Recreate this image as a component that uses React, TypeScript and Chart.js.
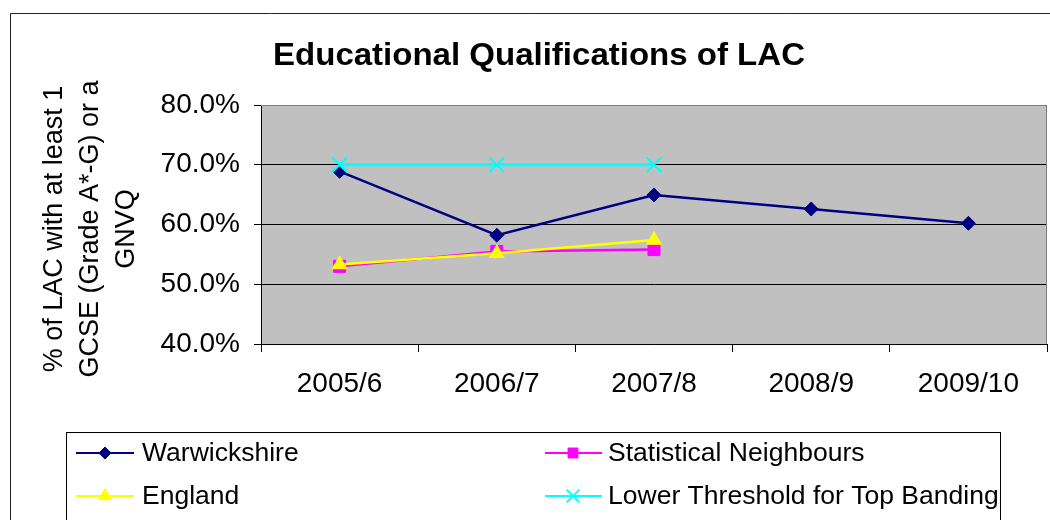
import React, { useEffect, useRef } from 'react';
import { Chart, registerables } from 'chart.js';
import { drawPoint } from 'chart.js/helpers';

Chart.register(...registerables);

const categories = ['2005/6', '2006/7', '2007/8', '2008/9', '2009/10'];
const warwickshire = [68.9, 58.2, 64.95, 62.6, 60.2];
const statNeighbours = [53.0, 55.5, 55.8, null, null];
const england = [53.3, 55.2, 57.4, null, null];
const threshold = [70, 70, 70, null, null];
const seriesNames = ['Warwickshire', 'Statistical Neighbours', 'England', 'Lower Threshold for Top Banding'];
const yMin = 40;
const yMax = 80;
const yStep = 10;
const titleText = 'Educational Qualifications of LAC';
const yTitleLines = ['% of LAC with at least 1', 'GCSE (Grade A*-G) or a', 'GNVQ'];

const FONT = '"Liberation Sans", Arial, sans-serif';

const decorPlugin = {
  id: 'decor',
  beforeDraw(chart: any) {
    const { ctx, chartArea } = chart;
    ctx.save();
    ctx.fillStyle = '#ffffff';
    ctx.fillRect(0, 0, chart.width, chart.height);
    // outer border
    ctx.strokeStyle = '#222';
    ctx.lineWidth = 1;
    ctx.beginPath();
    ctx.moveTo(chart.width + 5, 13.5);
    ctx.lineTo(10.5, 13.5);
    ctx.lineTo(10.5, chart.height + 5);
    ctx.stroke();
    // plot background
    ctx.fillStyle = '#C0C0C0';
    ctx.fillRect(chartArea.left, chartArea.top, chartArea.right - chartArea.left, chartArea.bottom - chartArea.top);
    // title
    ctx.fillStyle = '#000';
    ctx.save();
    ctx.translate(539, 65);
    ctx.scale(1.065, 1);
    ctx.font = `bold 31px ${FONT}`;
    ctx.textAlign = 'center';
    ctx.textBaseline = 'alphabetic';
    ctx.fillText(titleText, 0, 0);
    ctx.restore();
    // y title
    ctx.font = `27px ${FONT}`;
    const baselines = [62, 98, 134];
    yTitleLines.forEach((line, i) => {
      ctx.save();
      ctx.translate(baselines[i], 229);
      ctx.rotate(-Math.PI / 2);
      ctx.textAlign = 'center';
      ctx.textBaseline = 'alphabetic';
      ctx.fillText(line, 0, 0);
      ctx.restore();
    });
    ctx.restore();
  },
  beforeDatasetsDraw(chart: any) {
    const { ctx, chartArea } = chart;
    ctx.save();
    ctx.strokeStyle = '#808080';
    ctx.lineWidth = 1;
    ctx.beginPath();
    ctx.moveTo(chartArea.left, chartArea.top + 0.5);
    ctx.lineTo(chartArea.right - 0.5, chartArea.top + 0.5);
    ctx.lineTo(chartArea.right - 0.5, chartArea.bottom);
    ctx.stroke();
    ctx.restore();
  },
  afterDraw(chart: any) {
    const { ctx } = chart;
    ctx.save();
    ctx.strokeStyle = '#000';
    ctx.lineWidth = 1;
    ctx.strokeRect(66.5, 432.5, 934, 120);
    const rows = [453, 496];
    const cols = [{ l0: 76, l1: 134, m: 105, t: 142 }, { l0: 545, l1: 602, m: 573, t: 608 }];
    const legendRadius = [6, 7, 7.5, 9];
    chart.data.datasets.forEach((ds: any, i: number) => {
      const c = cols[i % 2];
      const y = rows[Math.floor(i / 2)];
      ctx.strokeStyle = ds.borderColor;
      ctx.lineWidth = 2;
      ctx.beginPath();
      ctx.moveTo(c.l0, y);
      ctx.lineTo(c.l1, y);
      ctx.stroke();
      ctx.fillStyle = ds.pointBackgroundColor;
      ctx.strokeStyle = ds.pointBorderColor;
      ctx.lineWidth = ds.pointBorderWidth;
      drawPoint(ctx, { pointStyle: ds.pointStyle, radius: legendRadius[i], rotation: 0, borderWidth: ds.pointBorderWidth }, c.m, y);
      ctx.fillStyle = '#000';
      ctx.save();
      ctx.translate(c.t, y + 1);
      ctx.scale(1.02, 1);
      ctx.font = `26px ${FONT}`;
      ctx.textAlign = 'left';
      ctx.textBaseline = 'middle';
      ctx.fillText(seriesNames[i], 0, 0);
      ctx.restore();
    });
    ctx.restore();
  },
};

export default function App() {
  const ref = useRef<HTMLCanvasElement | null>(null);
  useEffect(() => {
    if (!ref.current) return;
    const chart = new Chart(ref.current, {
      type: 'line',
      data: {
        labels: categories,
        datasets: [
          {
            label: seriesNames[0], data: warwickshire, borderColor: '#000080', backgroundColor: '#000080',
            pointBackgroundColor: '#000080', pointBorderColor: '#000080', pointBorderWidth: 1,
            pointStyle: 'rectRot', pointRadius: 7, borderWidth: 2.5, order: 4,
          },
          {
            label: seriesNames[1], data: statNeighbours, borderColor: '#FF00FF', backgroundColor: '#FF00FF',
            pointBackgroundColor: '#FF00FF', pointBorderColor: '#FF00FF', pointBorderWidth: 1,
            pointStyle: 'rect', pointRadius: 8.5, borderWidth: 2.5, order: 3,
          },
          {
            label: seriesNames[2], data: england, borderColor: '#FFFF00', backgroundColor: '#FFFF00',
            pointBackgroundColor: '#FFFF00', pointBorderColor: '#FFFF00', pointBorderWidth: 1,
            pointStyle: 'triangle', pointRadius: 8.5, borderWidth: 2.5, order: 2,
          },
          {
            label: seriesNames[3], data: threshold, borderColor: '#00FFFF', backgroundColor: '#00FFFF',
            pointBackgroundColor: '#00FFFF', pointBorderColor: '#00FFFF', pointBorderWidth: 2,
            pointStyle: 'crossRot', pointRadius: 10.5, borderWidth: 3, order: 1,
          },
        ] as any,
      },
      options: {
        animation: false,
        responsive: false,
        devicePixelRatio: 1,
        layout: { autoPadding: false, padding: { top: 105, right: 3, left: 0, bottom: 0 } },
        plugins: { legend: { display: false }, title: { display: false }, tooltip: { enabled: false } },
        elements: { line: { tension: 0 } },
        scales: {
          x: {
            type: 'category',
            offset: true,
            grid: { offset: true, drawOnChartArea: false, drawTicks: true, tickLength: 8, color: '#000' },
            border: { display: true, color: '#000', width: 1 },
            ticks: { color: '#000', font: { family: FONT, size: 28 }, padding: 15, maxRotation: 0 },
            afterFit: (s: any) => { s.height = 176; s.paddingLeft = 0; s.paddingRight = 0; },
          },
          y: {
            min: yMin,
            max: yMax,
            grid: { color: '#000', tickLength: 7, drawTicks: true },
            border: { display: true, color: '#000', width: 1 },
            ticks: {
              stepSize: yStep, color: '#000', font: { family: FONT, size: 28 }, padding: 14,
              callback: (v: any) => Number(v).toFixed(1) + '%',
            },
            afterFit: (s: any) => { s.width = 261; s.paddingTop = 0; s.paddingBottom = 0; },
          },
        },
      } as any,
      plugins: [decorPlugin],
    });
    return () => chart.destroy();
  }, []);
  return (
    <div style={{ position: 'absolute', left: 0, top: 0, width: 1050, height: 520 }}>
      <canvas ref={ref} width={1050} height={520} style={{ width: 1050, height: 520, display: 'block' }} />
    </div>
  );
}
